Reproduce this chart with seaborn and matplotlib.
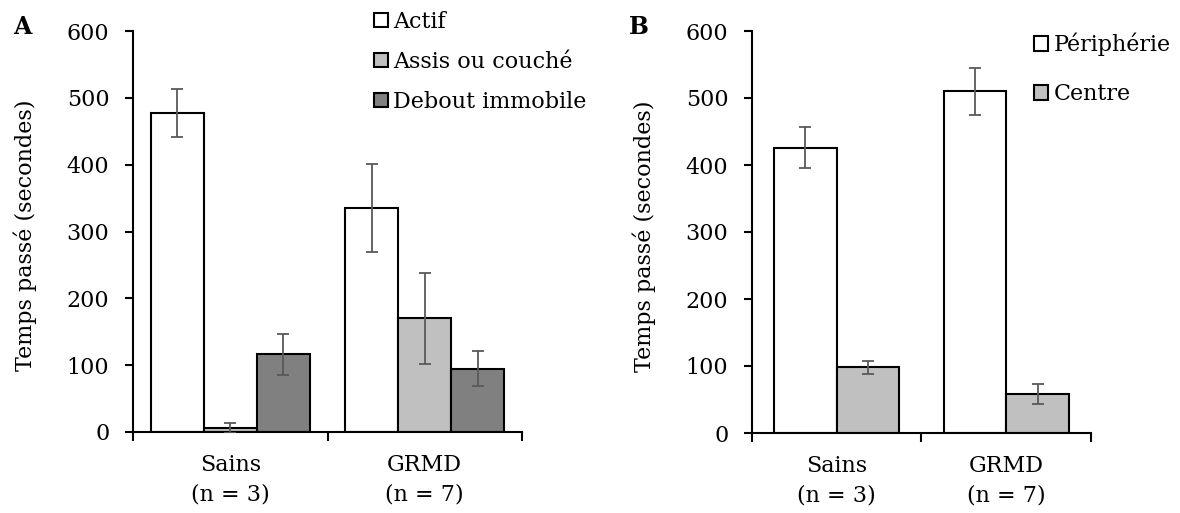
import pandas as pd
import matplotlib.pyplot as plt
import seaborn as sns
from matplotlib.container import BarContainer

groupes = ['Sains\n(n = 3)', 'GRMD\n(n = 7)']

# panneau A : activité
activites = ['Actif', 'Assis ou couché', 'Debout immobile']
actif = [477, 335]
actif_err = [36, 66]
assis = [6, 170]
assis_err = [7, 68]
debout = [116, 95]
debout_err = [31, 26]

# panneau B : zone
zones = ['Périphérie', 'Centre']
peripherie = [426, 510]
peripherie_err = [30, 35]
centre = [98, 58]
centre_err = [10, 15]

yticks = [0, 100, 200, 300, 400, 500, 600]

FS = 16

sns.set_style('ticks')
plt.rcParams['font.family'] = ['DejaVu Serif']
plt.rcParams['font.size'] = FS
plt.rcParams['text.color'] = 'black'
plt.rcParams['axes.labelcolor'] = 'black'
plt.rcParams['axes.edgecolor'] = 'black'
plt.rcParams['xtick.color'] = 'black'
plt.rcParams['ytick.color'] = 'black'

W, H = 1180, 513
fig = plt.figure(figsize=(W / 100, H / 100), dpi=100)


def box(x0, x1, ytop, ybot):
    # pixels -> coordonnées figure
    return [x0 / W, 1 - ybot / H, (x1 - x0) / W, (ybot - ytop) / H]


def barres(ax):
    return [c for c in ax.containers if isinstance(c, BarContainer)]


def panneau(ax, df, niveaux, couleurs, largeur):
    sns.barplot(data=df, x='groupe', y='temps', hue='cat', hue_order=niveaux,
                order=groupes, palette=couleurs, edgecolor='black',
                linewidth=1.5, width=largeur, errorbar=None, legend=False,
                saturation=1, ax=ax)
    # barres d'erreur sur chaque barre
    for cont, niv in zip(barres(ax), niveaux):
        sub = df[df['cat'] == niv].set_index('groupe').loc[groupes]
        xs = [b.get_x() + b.get_width() / 2 for b in cont.patches]
        ax.errorbar(xs, sub['temps'], yerr=sub['err'], fmt='none',
                    ecolor='#595959', elinewidth=1.3, capsize=4,
                    capthick=1.3, zorder=5)
    ax.set_xlim(-0.5, 1.5)
    ax.set_ylim(0, 600)
    ax.set_yticks(yticks)
    ax.set_xlabel('')
    ax.set_ylabel('Temps passé (secondes)', fontsize=FS)
    sns.despine(ax=ax)
    for s in ['left', 'bottom']:
        ax.spines[s].set_linewidth(1.5)
    ax.set_xticks([-0.5, 0.5, 1.5], minor=True)
    ax.tick_params(axis='x', which='major', length=0, pad=16, labelsize=FS)
    ax.tick_params(axis='x', which='minor', length=6.5, width=1.5)
    ax.tick_params(axis='y', length=6, width=1.5, pad=11, labelsize=FS)
    for t in ax.get_xticklabels():
        t.set_linespacing(1.4)
    ax.set_facecolor('white')


def tableau(valeurs, erreurs, niveaux):
    rows = []
    for niv, vals, errs in zip(niveaux, valeurs, erreurs):
        for g, v, e in zip(groupes, vals, errs):
            rows.append({'groupe': g, 'cat': niv, 'temps': v, 'err': e})
    return pd.DataFrame(rows)


dfA = tableau([actif, assis, debout], [actif_err, assis_err, debout_err], activites)
dfB = tableau([peripherie, centre], [peripherie_err, centre_err], zones)

axA = fig.add_axes(box(133, 522, 31, 432))
panneau(axA, dfA, activites, ['white', '#c0c0c0', '#808080'], 0.82)
axA.yaxis.set_label_coords(-0.247, 0.49)
axA.legend(handles=[c.patches[0] for c in barres(axA)], labels=activites,
           loc='upper left', bbox_to_anchor=(374 / W, 1 - 11 / H),
           bbox_transform=fig.transFigure, frameon=False, borderpad=0,
           borderaxespad=0, handlelength=0.62, handleheight=0.62,
           handletextpad=0.25, labelspacing=0.8, fontsize=FS)

axB = fig.add_axes(box(752, 1091, 31, 433))
panneau(axB, dfB, zones, ['white', '#c0c0c0'], 0.74)
axB.yaxis.set_label_coords(-0.283, 0.49)
axB.legend(handles=[c.patches[0] for c in barres(axB)], labels=zones,
           loc='upper left', bbox_to_anchor=(1034 / W, 1 - 33 / H),
           bbox_transform=fig.transFigure, frameon=False, borderpad=0,
           borderaxespad=0, handlelength=0.62, handleheight=0.62,
           handletextpad=0.25, labelspacing=1.2, fontsize=FS)

for lettre, x in [('A', 22), ('B', 639)]:
    fig.text(x / W, 1 - 27 / H, lettre, fontsize=17, fontweight='bold',
             ha='center', va='center')

fig.savefig('out.png', dpi=100)
